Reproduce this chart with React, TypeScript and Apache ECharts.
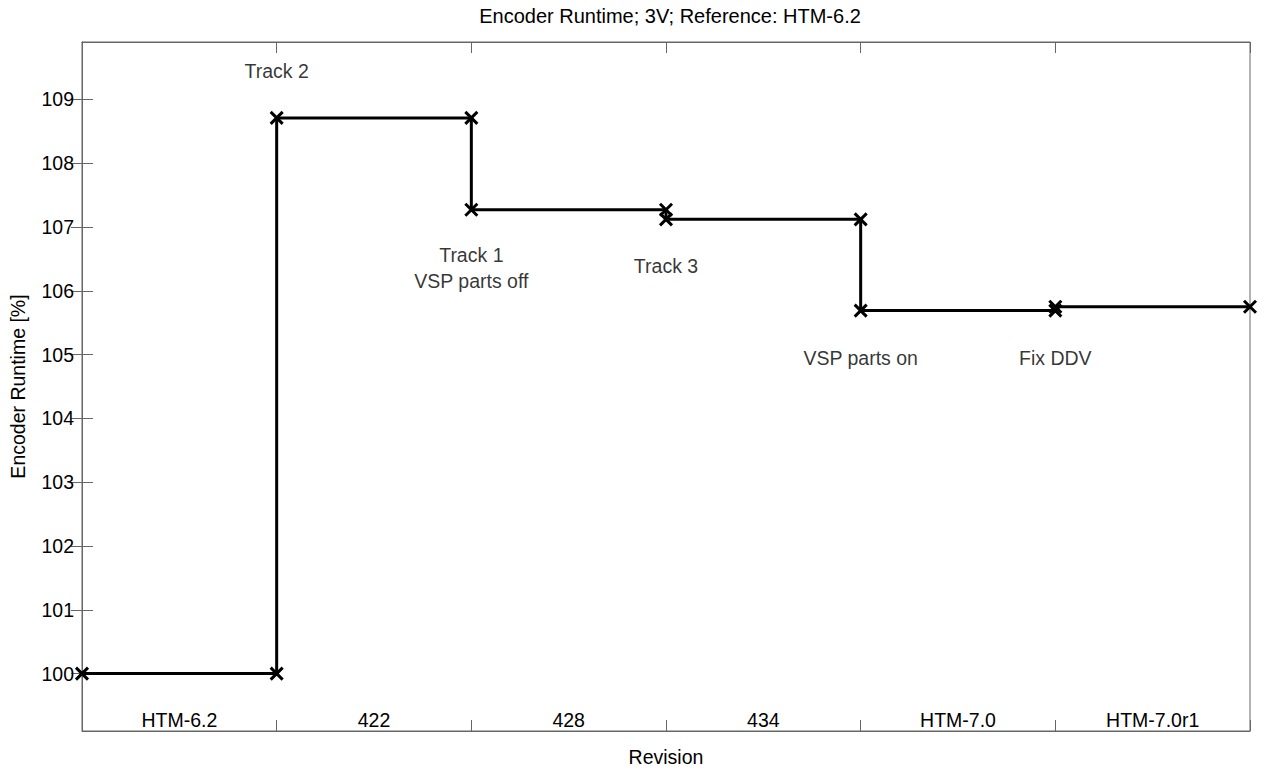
import React, { useEffect, useRef } from "react";
import * as echarts from "echarts";

const revisions = ["HTM-6.2", "422", "428", "434", "HTM-7.0", "HTM-7.0r1"];
const stepX = [0, 1, 1, 2, 2, 3, 3, 4, 4, 5, 5, 6];
const stepY = [100, 100, 108.71, 108.71, 107.27, 107.27, 107.12, 107.12, 105.69, 105.69, 105.75, 105.75];
const yTicks = [100, 101, 102, 103, 104, 105, 106, 107, 108, 109];
const noteText = ["Track 2", "Track 1\nVSP parts off", "Track 3", "VSP parts on", "Fix DDV"];
const noteX = [1, 2, 3, 4, 5];
const noteY = [109.44, 106.36, 106.39, 104.94, 104.94];

const FONT = "Liberation Sans";
const FS = 19.5;
const AX = "#666666";

export default function App() {
  const ref = useRef<HTMLDivElement>(null);
  useEffect(() => {
    const chart = echarts.init(ref.current!, null, { renderer: "svg" });
    const xPath = "path://M0,0L10,10M10,0L0,10";
    chart.setOption({
      animation: false,
      backgroundColor: "#ffffff",
      textStyle: { fontFamily: FONT },
      title: {
        text: "Encoder Runtime; 3V; Reference: HTM-6.2",
        left: 665,
        textAlign: "center",
        top: 1,
        textStyle: { fontFamily: FONT, fontSize: 20, fontWeight: "normal", color: "#000" },
      },
      grid: { left: 81, top: 42, right: 14, bottom: 39, show: true, borderColor: AX, borderWidth: 1 },
      xAxis: [
        {
          type: "value", min: 0, max: 6, interval: 1, position: "bottom",
          axisLine: { show: true, lineStyle: { color: AX } },
          axisTick: { show: true, inside: true, length: 11, lineStyle: { color: AX } },
          axisLabel: { show: false },
          splitLine: { show: false },
          name: "Revision", nameLocation: "middle", nameGap: 16,
          nameTextStyle: { fontFamily: FONT, fontSize: FS, color: "#000" },
        },
        {
          type: "value", min: 0, max: 6, interval: 1, position: "top",
          axisLine: { show: true, lineStyle: { color: AX } },
          axisTick: { show: true, inside: true, length: 11, lineStyle: { color: AX } },
          axisLabel: { show: false },
          splitLine: { show: false },
        },
        {
          type: "category", data: revisions, position: "bottom", boundaryGap: true,
          axisLine: { show: false }, axisTick: { show: false },
          axisLabel: { inside: true, margin: 1, fontFamily: FONT, fontSize: FS, color: "#000" },
          splitLine: { show: false },
        },
      ],
      yAxis: [
        {
          type: "value", min: 99.1, max: 109.9, position: "left",
          axisLine: { show: true, lineStyle: { color: AX } },
          axisTick: { show: true, inside: true, length: 11, customValues: yTicks, lineStyle: { color: AX } },
          axisLabel: { customValues: yTicks, margin: 8, fontFamily: FONT, fontSize: FS, color: "#000" },
          splitLine: { show: false },
          name: "Encoder Runtime [%]", nameLocation: "middle", nameGap: 54,
          nameTextStyle: { fontFamily: FONT, fontSize: FS, color: "#000" },
        },
        {
          type: "value", min: 99.1, max: 109.9, position: "right",
          axisLine: { show: true, lineStyle: { color: AX } },
          axisTick: { show: true, inside: true, length: 11, customValues: yTicks, lineStyle: { color: AX } },
          axisLabel: { show: false },
          splitLine: { show: false },
        },
      ],
      series: [
        {
          type: "line",
          xAxisIndex: 0, yAxisIndex: 0,
          data: stepX.map((x, i) => [x, stepY[i]]),
          lineStyle: { color: "#000", width: 3 },
          symbol: xPath, symbolSize: 12, showSymbol: true,
          itemStyle: { color: "none", borderColor: "#000", borderWidth: 3 },
          clip: false,
          z: 3,
        },
        {
          type: "scatter",
          xAxisIndex: 0, yAxisIndex: 0,
          symbolSize: 0,
          data: noteText.map((t, i) => ({ name: t, value: [noteX[i], noteY[i]] })),
          label: {
            show: true, position: "inside", formatter: "{b}",
            fontFamily: FONT, fontSize: FS, color: "#000", lineHeight: 26, align: "center",
          },
          silent: true,
        },
      ],
    });
    return () => chart.dispose();
  }, []);
  return <div ref={ref} style={{ position: "fixed", left: 0, top: 0, width: 1264, height: 772 }} />;
}
